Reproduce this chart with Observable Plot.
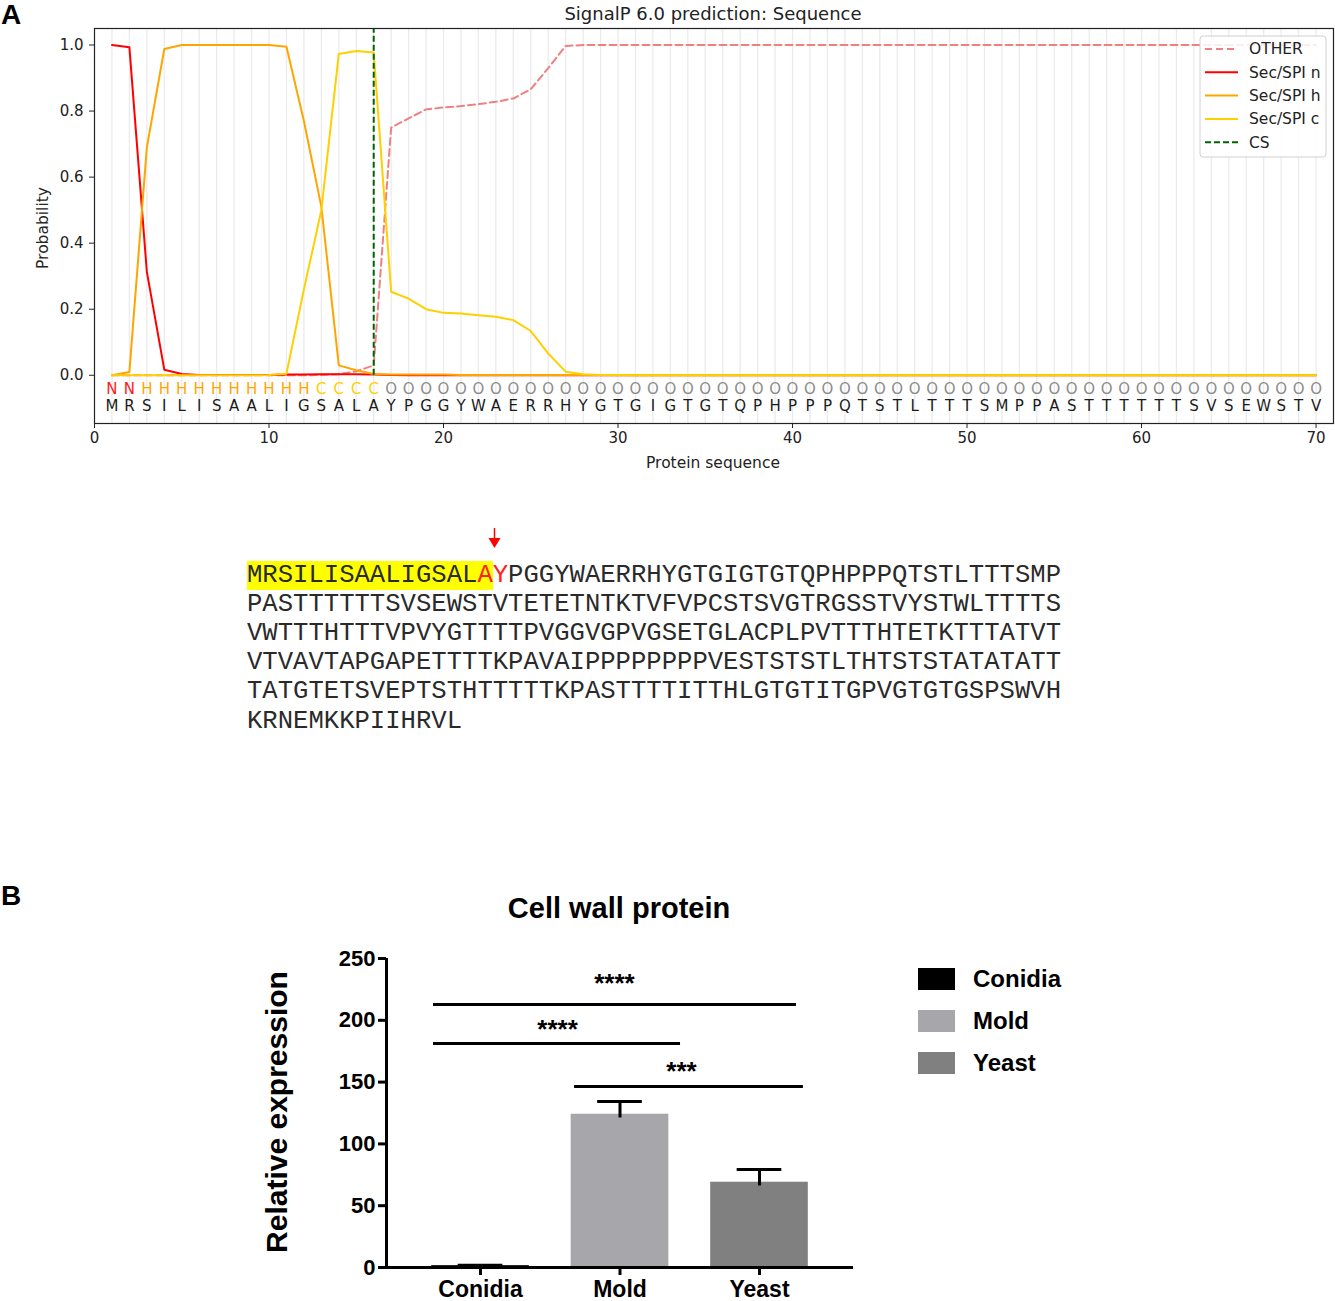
<!DOCTYPE html>
<html><head><meta charset="utf-8">
<script src="https://cdn.jsdelivr.net/npm/d3@7"></script>
<script src="https://cdn.jsdelivr.net/npm/@observablehq/plot@0.6"></script>
<style>
body{margin:0;background:#fff;}
#root{position:relative;width:1335px;height:1301px;overflow:hidden;background:#fff;}
.abs{position:absolute;}
.panel{font-family:"Liberation Sans",Arial,sans-serif;font-weight:bold;font-size:28px;line-height:28px;color:#000;}
.dv{font-family:"DejaVu Sans",sans-serif;color:#222;}
.ar{font-family:"Liberation Sans",Arial,sans-serif;font-weight:bold;color:#000;}
#seq{left:247px;top:560.6px;font-family:"Courier New","Liberation Mono",monospace;font-size:25.6px;line-height:29.2px;color:#2a2a2a;white-space:pre;}
</style></head><body><div id="root"></div>
<script>
// ---------- Panel A data ----------
const positions = d3.range(1, 71);
const aminoAcids = "MRSILISAALIGSALAYPGGYWAERRHYGTGIGTGTQPHPPPQTSTLTTTSMPPASTTTTTTSVSEWSTV".split("");
const regionLabels = "NNHHHHHHHHHHCCCCOOOOOOOOOOOOOOOOOOOOOOOOOOOOOOOOOOOOOOOOOOOOOOOOOOOOOO".split("");
const regionColors = {N: "#ff1a1a", H: "#ffa500", C: "#ffd000", O: "#8c8c8c"};
const probOther = [
  0, 0, 0, 0, 0, 0, 0, 0, 0, 0,
  0, 0, 0.001, 0.003, 0.012, 0.03, 0.75, 0.778, 0.805, 0.811,
  0.815, 0.821, 0.828, 0.838, 0.866, 0.93, 0.997, 1.0, 1.0, 1.0,
  1.0, 1.0, 1.0, 1.0, 1.0, 1.0, 1.0, 1.0, 1.0, 1.0,
  1.0, 1.0, 1.0, 1.0, 1.0, 1.0, 1.0, 1.0, 1.0, 1.0,
  1.0, 1.0, 1.0, 1.0, 1.0, 1.0, 1.0, 1.0, 1.0, 1.0,
  1.0, 1.0, 1.0, 1.0, 1.0, 1.0, 1.0, 1.0, 1.0, 1.0
];
const probN = [
  1.0, 0.993, 0.313, 0.017, 0.004, 0.001, 0.001, 0.001, 0.001, 0.001,
  0.002, 0.002, 0.003, 0.003, 0.003, 0.002, 0.001, 0, 0, 0,
  0, 0, 0, 0, 0, 0, 0, 0, 0, 0,
  0, 0, 0, 0, 0, 0, 0, 0, 0, 0,
  0, 0, 0, 0, 0, 0, 0, 0, 0, 0,
  0, 0, 0, 0, 0, 0, 0, 0, 0, 0,
  0, 0, 0, 0, 0, 0, 0, 0, 0, 0
];
const probH = [
  0.0, 0.01, 0.69, 0.988, 1.0, 1.0, 1.0, 1.0, 1.0, 1.0,
  0.995, 0.77, 0.51, 0.03, 0.015, 0.004, 0.002, 0.002, 0.002, 0.002,
  0.001, 0.001, 0.001, 0.001, 0.001, 0.001, 0.001, 0.001, 0.001, 0.001,
  0.001, 0.001, 0.001, 0.001, 0.001, 0.001, 0.001, 0.001, 0.001, 0.001,
  0.001, 0.001, 0.001, 0.001, 0.001, 0.001, 0.001, 0.001, 0.001, 0.001,
  0.001, 0.001, 0.001, 0.001, 0.001, 0.001, 0.001, 0.001, 0.001, 0.001,
  0.001, 0.001, 0.001, 0.001, 0.001, 0.001, 0.001, 0.001, 0.001, 0.001
];
const probC = [
  0, 0, 0, 0, 0, 0, 0, 0, 0, 0.001,
  0.005, 0.26, 0.5, 0.973, 0.982, 0.977, 0.253, 0.232, 0.2, 0.189,
  0.187, 0.182, 0.177, 0.167, 0.134, 0.066, 0.011, 0.003, 0.001, 0.001,
  0, 0, 0, 0, 0, 0, 0, 0, 0, 0,
  0, 0, 0, 0, 0, 0, 0, 0, 0, 0,
  0, 0, 0, 0, 0, 0, 0, 0, 0, 0,
  0, 0, 0, 0, 0, 0, 0, 0, 0, 0
];
const csPosition = [16];
const seriesNames = ["OTHER", "Sec/SPI n", "Sec/SPI h", "Sec/SPI c", "CS"];
const seriesColors = ["#f08080", "#ff0000", "#ffa500", "#ffd000", "#006400"];
const seriesDash = ["7,4", null, null, null, "6,3"];
const xTicksA = [0, 10, 20, 30, 40, 50, 60, 70];
const yTicksA = [0.0, 0.2, 0.4, 0.6, 0.8, 1.0];

// ---------- Sequence text ----------
const seqLines = [
  "MRSILISAALIGSALAYPGGYWAERRHYGTGIGTGTQPHPPPQTSTLTTTSMP",
  "PASTTTTTTSVSEWSTVTETETNTKTVFVPCSTSVGTRGSSTVYSTWLTTTTS",
  "VWTTTHTTTVPVYGTTTTPVGGVGPVGSETGLACPLPVTTTHTETKTTTATVT",
  "VTVAVTAPGAPETTTTKPAVAIPPPPPPPPVESTSTSTLTHTSTSTATATATT",
  "TATGTETSVEPTSTHTTTTTKPASTTTTITTHLGTGTITGPVGTGTGSPSWVH",
  "KRNEMKKPIIHRVL"
];
const signalPeptideLength = 16;

// ---------- Panel B data ----------
const categories = ["Conidia", "Mold", "Yeast"];
const means = [1.5, 124, 69];
const sems = [0.3, 10.3, 10.3];
const barColors = ["#000000", "#a6a6ab", "#808080"];
const yTicksB = [0, 50, 100, 150, 200, 250];
const sigY = [212.8, 181.2, 146.4];
const sigX1 = [-0.337, -0.337, 0.674];
const sigX2 = [2.265, 1.434, 2.315];
const sigLabels = ["****", "****", "***"];
const sigLabelX = [0.96, 0.552, 1.441];
const sigLabelY = [233, 195.8, 161.8];

// ---------- build ----------
const root = document.getElementById("root");
const toRows = arr => arr.map((p, i) => ({pos: positions[i], p}));
const letterRows = positions.map((pos, i) => ({pos, label: regionLabels[i], color: regionColors[regionLabels[i]], aa: aminoAcids[i]}));

const plotA = Plot.plot({
  width: 1335, height: 475, marginLeft: 94, marginRight: 2, marginTop: 28, marginBottom: 52,
  x: {domain: [0, 71]}, y: {domain: [-0.146, 1.05]},
  color: {type: "identity"},
  style: {fontFamily: "DejaVu Sans, sans-serif", fontSize: "15px", color: "#222", background: "transparent"},
  marks: [
    Plot.ruleX(positions, {x: d => d, stroke: "#ebebeb", strokeWidth: 1.3}),
    Plot.line(toRows(probOther), {x: "pos", y: "p", stroke: seriesColors[0], strokeWidth: 2, strokeDasharray: seriesDash[0]}),
    Plot.line(toRows(probN), {x: "pos", y: "p", stroke: seriesColors[1], strokeWidth: 2}),
    Plot.line(toRows(probH), {x: "pos", y: "p", stroke: seriesColors[2], strokeWidth: 2}),
    Plot.line(toRows(probC), {x: "pos", y: "p", stroke: seriesColors[3], strokeWidth: 2}),
    Plot.ruleX(csPosition, {x: d => d, y1: 0, y2: 1.05, stroke: seriesColors[4], strokeWidth: 2, strokeDasharray: seriesDash[4]}),
    Plot.text(letterRows, {x: "pos", y: -0.041, text: "label", fill: "color", fontSize: 15}),
    Plot.text(letterRows, {x: "pos", y: -0.094, text: "aa", fill: "#1a1a1a", fontSize: 15}),
    Plot.frame({stroke: "#222", strokeWidth: 1.2}),
    Plot.axisX({ticks: xTicksA, tickSize: 5, tickPadding: 4, label: null, fontSize: 15}),
    Plot.axisY({ticks: yTicksA, tickFormat: d3.format(".1f"), tickSize: 5, tickPadding: 6, label: null, fontSize: 15})
  ]
});
plotA.classList.add("abs");
plotA.style.left = "0px"; plotA.style.top = "0px";
root.appendChild(plotA);

const bars = categories.map((c, i) => ({i, c, mean: means[i], err: sems[i], color: barColors[i]}));
const sig = sigY.map((y, k) => ({y, x1: sigX1[k], x2: sigX2[k], label: sigLabels[k], tx: sigLabelX[k], ty: sigLabelY[k]}));

const plotB = Plot.plot({
  width: 620, height: 371, marginLeft: 136, marginRight: 17, marginTop: 28, marginBottom: 34,
  x: {domain: [-0.674, 2.674]}, y: {domain: [0, 250]},
  color: {type: "identity"},
  style: {fontFamily: "Liberation Sans, Arial, sans-serif", fontWeight: "bold", fontSize: "22px", color: "#000", background: "transparent", overflow: "visible"},
  marks: [
    Plot.rectY(bars, {x1: d => d.i - 0.35, x2: d => d.i + 0.35, y1: 0, y2: "mean", fill: "color"}),
    Plot.ruleX(bars, {x: "i", y1: d => d.mean - 3, y2: d => d.mean + d.err, stroke: "#000", strokeWidth: 3}),
    Plot.ruleY(bars, {y: d => d.mean + d.err, x1: d => d.i - 0.16, x2: d => d.i + 0.16, stroke: "#000", strokeWidth: 3}),
    Plot.ruleY(sig, {y: "y", x1: "x1", x2: "x2", stroke: "#000", strokeWidth: 3}),
    Plot.text(sig, {x: "tx", y: "ty", text: "label", fontSize: 26, fontWeight: "bold", fill: "#000", dy: 4}),
    Plot.ruleY([0], {stroke: "#000", strokeWidth: 3}),
    Plot.ruleX([-0.674], {y1: 0, y2: 250, stroke: "#000", strokeWidth: 3}),
    Plot.axisY({ticks: yTicksB, tickSize: 8, tickPadding: 3, strokeWidth: 3, label: null, fontSize: 22}),
    Plot.axisX({ticks: [0, 1, 2], tickFormat: i => categories[i], tickSize: 8, tickPadding: 5, strokeWidth: 3, label: null, fontSize: 23})
  ]
});
plotB.classList.add("abs");
plotB.style.left = "250px"; plotB.style.top = "930px";
root.appendChild(plotB);

// ---------- HTML text ----------
function addText(txt, cls, css) {
  const d = document.createElement("div");
  d.className = "abs " + cls;
  d.textContent = txt;
  Object.assign(d.style, css);
  root.appendChild(d);
  return d;
}
addText("A", "panel", {left: "1px", top: "1px"});
addText("B", "panel", {left: "1px", top: "882px"});
addText("SignalP 6.0 prediction: Sequence", "dv", {left: "713px", top: "13px", fontSize: "18px", transform: "translate(-50%,-50%)", whiteSpace: "nowrap"});
addText("Probability", "dv", {left: "43px", top: "228px", fontSize: "15.5px", transform: "translate(-50%,-50%) rotate(-90deg)", whiteSpace: "nowrap"});
addText("Protein sequence", "dv", {left: "713px", top: "463px", fontSize: "15.5px", transform: "translate(-50%,-50%)", whiteSpace: "nowrap"});
addText("Cell wall protein", "ar", {left: "619px", top: "908px", fontSize: "29px", transform: "translate(-50%,-50%)", whiteSpace: "nowrap"});
addText("Relative expression", "ar", {left: "277px", top: "1112px", fontSize: "30px", transform: "translate(-50%,-50%) rotate(-90deg)", whiteSpace: "nowrap"});

// sequence block
const seqDiv = document.createElement("div");
seqDiv.id = "seq"; seqDiv.className = "abs";
seqLines.forEach((line, k) => {
  const ln = document.createElement("div");
  if (k === 0) {
    const hl = document.createElement("span");
    hl.style.background = "#ffff00";
    hl.textContent = line.slice(0, signalPeptideLength - 1);
    const a = document.createElement("span");
    a.style.color = "#ff2020"; a.textContent = line[signalPeptideLength - 1];
    hl.appendChild(a);
    ln.appendChild(hl);
    const y = document.createElement("span");
    y.style.color = "#ff2020"; y.textContent = line[signalPeptideLength];
    ln.appendChild(y);
    ln.appendChild(document.createTextNode(line.slice(signalPeptideLength + 1)));
  } else {
    ln.textContent = line;
  }
  seqDiv.appendChild(ln);
});
root.appendChild(seqDiv);

// ---------- overlay: legends and arrow ----------
const ov = d3.select(root).append("svg").attr("class", "abs")
  .attr("width", 1335).attr("height", 1301).style("left", "0px").style("top", "0px").style("pointer-events", "none");
// legend A
const lgA = ov.append("g").attr("transform", "translate(1200,36)");
lgA.append("rect").attr("width", 126).attr("height", 121).attr("rx", 3)
  .attr("fill", "#fff").attr("fill-opacity", 0.85).attr("stroke", "#d0d0d0");
seriesNames.forEach((name, k) => {
  const y = 13 + k * 23.3;
  lgA.append("line").attr("x1", 5).attr("x2", 38).attr("y1", y).attr("y2", y)
    .attr("stroke", seriesColors[k]).attr("stroke-width", 2).attr("stroke-dasharray", seriesDash[k]);
  lgA.append("text").attr("x", 49).attr("y", y).attr("dy", "0.35em")
    .attr("font-family", "DejaVu Sans, sans-serif").attr("font-size", 15.5).attr("fill", "#222").text(name);
});
// arrow
const arr = ov.append("g").attr("fill", "#ff0000").attr("stroke", "#ff0000");
arr.append("line").attr("x1", 494.5).attr("x2", 494.5).attr("y1", 528).attr("y2", 540).attr("stroke-width", 1.5);
arr.append("path").attr("d", "M488.5,538 L500.5,538 L494.5,548 Z").attr("stroke", "none");
// legend B
categories.forEach((c, k) => {
  const y = 968 + k * 42;
  ov.append("rect").attr("x", 918).attr("y", y).attr("width", 37).attr("height", 22).attr("fill", barColors[k]);
  ov.append("text").attr("x", 973).attr("y", y + 11).attr("dy", "0.35em")
    .attr("font-family", "Liberation Sans, Arial, sans-serif").attr("font-weight", "bold").attr("font-size", 24).attr("fill", "#000").text(c);
});
</script></body></html>
